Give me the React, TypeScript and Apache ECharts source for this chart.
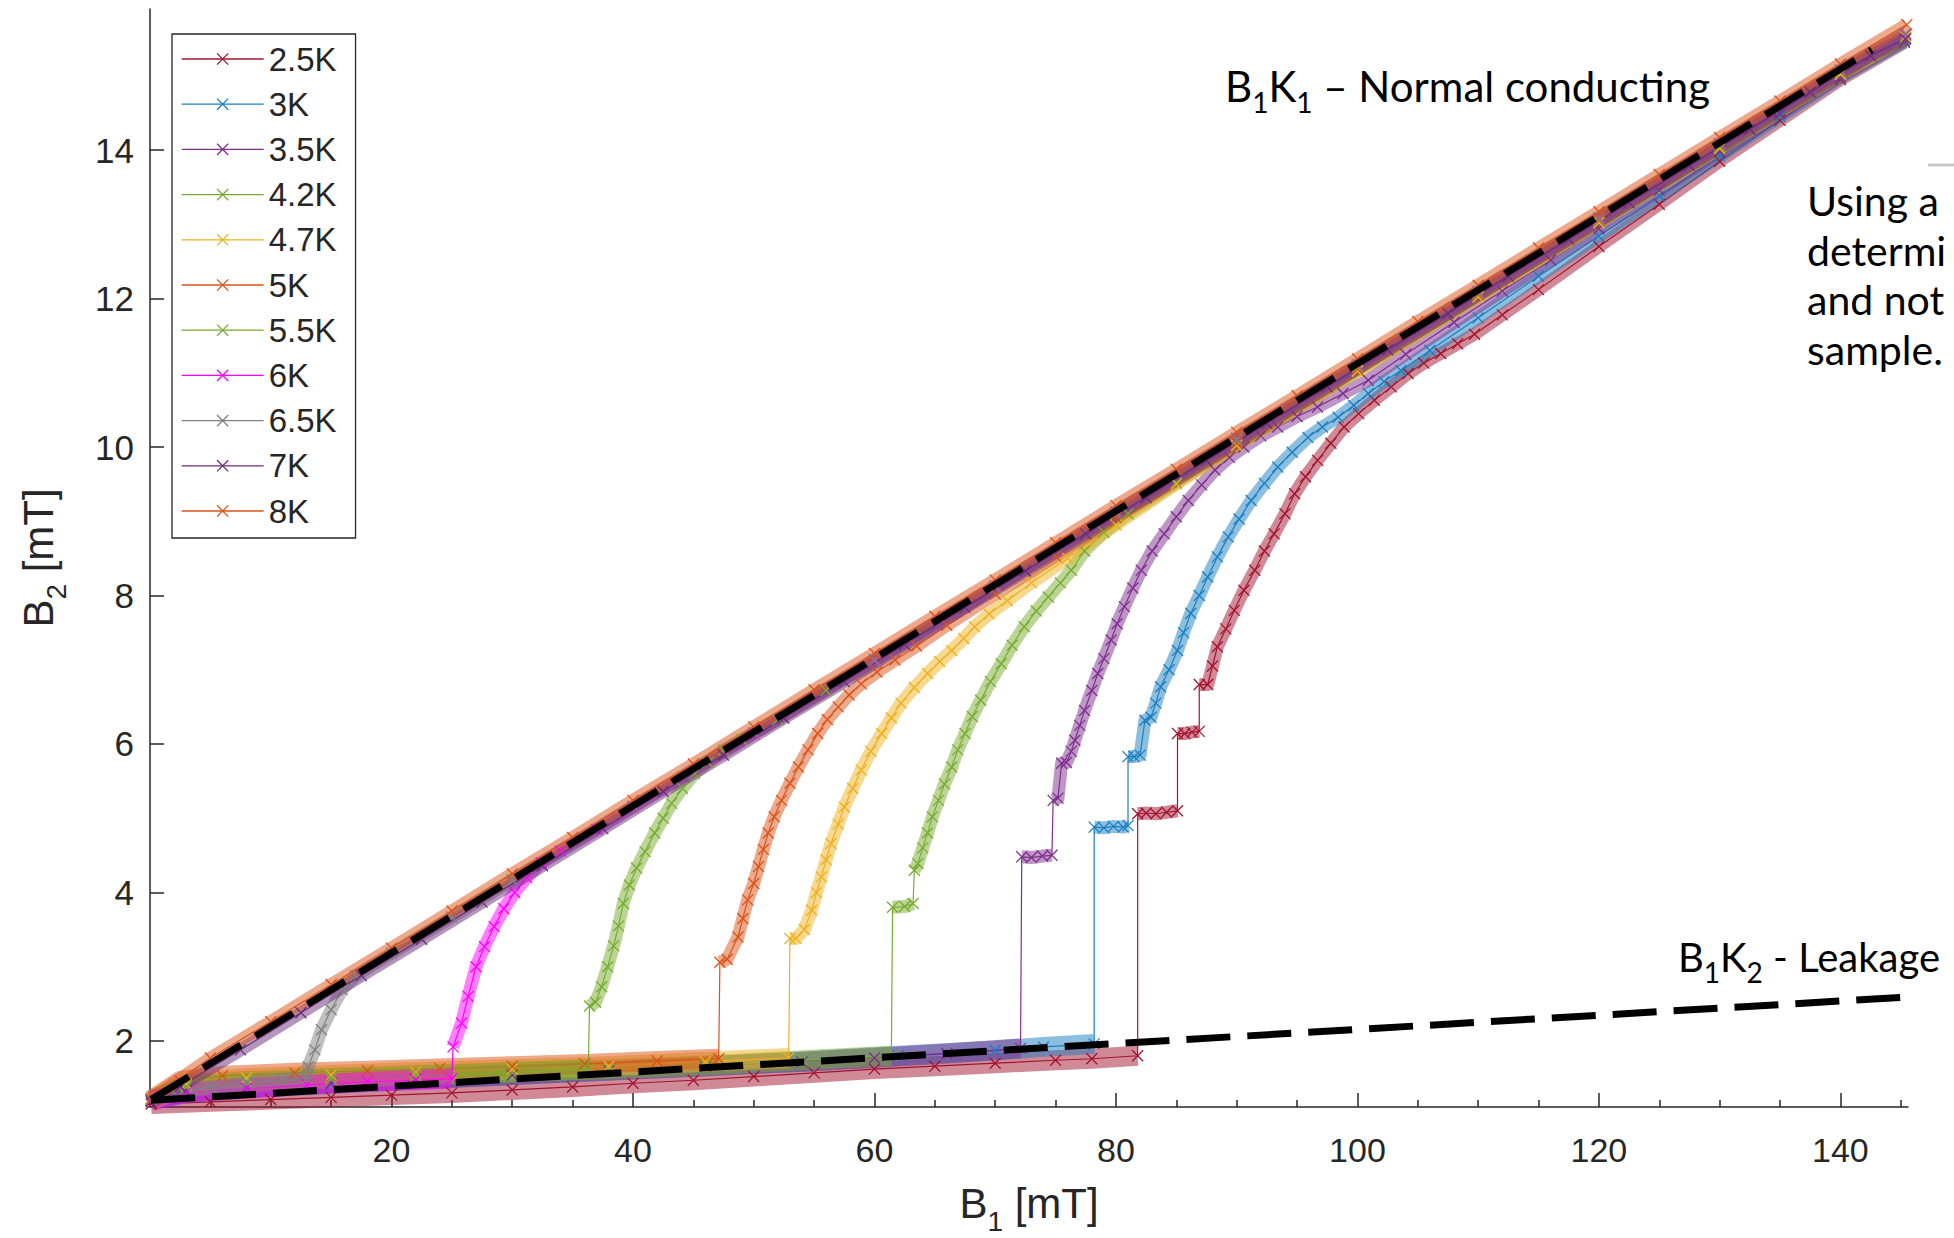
import React, { useEffect, useRef } from 'react';
import * as echarts from 'echarts';

// ---------- data ----------
const temps = ['2.5K', '3K', '3.5K', '4.2K', '4.7K', '5K', '5.5K', '6K', '6.5K', '7K', '8K'];
const colors = ['#A2142F', '#1A7FBF', '#7E2F8E', '#77AC30', '#EDB120', '#D95319', '#77AC30', '#FF00FF', '#808080', '#6A2C78', '#D95319'];

const s25 = [
  [0.1, 1.15], [5, 1.18], [10, 1.21], [15, 1.24], [20, 1.27], [25, 1.3], [30, 1.34], [35, 1.38], [40, 1.43], [45, 1.47],
  [50, 1.52], [55, 1.57], [60, 1.62], [65, 1.66], [70, 1.7], [75, 1.74], [78, 1.76], [81.8, 1.8],
  [81.8, 5.06], [82.5, 5.07], [83.3, 5.06], [84.2, 5.08], [85.1, 5.1], [85.1, 6.14], [85.7, 6.14], [86.3, 6.16], [86.9, 6.17],
  [86.9, 6.8], [87.6, 6.8], [88.0, 7.05], [88.4, 7.31], [89.1, 7.55], [89.8, 7.8], [90.6, 8.07], [91.5, 8.34], [92.3, 8.6],
  [93.1, 8.83], [94.0, 9.1], [94.8, 9.37], [95.7, 9.6], [96.7, 9.82], [97.8, 10.05], [98.9, 10.27], [100.1, 10.45],
  [101.4, 10.63], [102.8, 10.81], [104.2, 10.99], [105.5, 11.13], [106.9, 11.26], [108.3, 11.39], [109.7, 11.52],
  [112, 11.78], [115, 12.12], [120, 12.7], [125, 13.27], [130, 13.85], [135, 14.4], [140, 14.95], [145.3, 15.45],
];
const s3 = [
  [0.1, 1.2], [3, 1.3], [8, 1.36], [15, 1.42], [22, 1.48], [30, 1.54], [38, 1.6], [46, 1.66], [54, 1.72], [62, 1.8],
  [70, 1.87], [74, 1.92], [78.2, 1.96],
  [78.2, 4.88], [79.0, 4.87], [79.8, 4.89], [80.6, 4.88], [81.0, 4.9], [81.0, 5.83], [81.5, 5.83], [82.0, 5.85],
  [82.4, 6.32], [82.9, 6.36], [83.3, 6.55], [83.7, 6.77], [84.4, 7.0], [85.1, 7.26], [85.6, 7.5], [86.2, 7.76],
  [86.9, 8.0], [87.6, 8.25], [88.4, 8.52], [89.3, 8.79], [90.2, 9.03], [91.2, 9.28], [92.3, 9.51], [93.4, 9.73],
  [94.6, 9.93], [95.9, 10.13], [97.1, 10.27], [98.4, 10.4], [99.7, 10.56], [100.9, 10.72], [102.2, 10.88], [103.6, 11.03],
  [106, 11.3], [110, 11.74], [115, 12.3], [120, 12.84], [125, 13.38], [130, 13.92], [135, 14.45], [140, 14.98], [145.3, 15.46],
];
const s35 = [
  [0.1, 1.2], [3, 1.32], [8, 1.37], [15, 1.43], [22, 1.48], [30, 1.54], [38, 1.6], [46, 1.66], [54, 1.72], [60, 1.77],
  [66, 1.83], [72.1, 1.9],
  [72.2, 4.48], [73.0, 4.47], [73.9, 4.49], [74.7, 4.5], [74.8, 5.24], [75.2, 5.27], [75.5, 5.74], [75.9, 5.75],
  [76.3, 5.9], [76.6, 6.05], [77.0, 6.25], [77.4, 6.45], [78.0, 6.72], [78.5, 6.95], [79.0, 7.15], [79.6, 7.4],
  [80.1, 7.62], [80.7, 7.85], [81.4, 8.1], [82.1, 8.34], [83.0, 8.6], [84.0, 8.83], [85.0, 9.06], [86.0, 9.28],
  [87.1, 9.49], [88.2, 9.69], [89.4, 9.86], [90.6, 10.0], [92.0, 10.15], [93.4, 10.27], [95.0, 10.41], [96.7, 10.54],
  [98.8, 10.72], [100.9, 10.9], [104, 11.25], [108, 11.68], [112, 12.1], [116, 12.52], [120, 12.94], [125, 13.46],
  [130, 13.98], [135, 14.49], [140, 14.99], [145.3, 15.48],
];
const s42 = [
  [0.1, 1.2], [3, 1.4], [8, 1.46], [15, 1.5], [22, 1.54], [30, 1.58], [38, 1.62], [46, 1.67], [54, 1.74], [61.4, 1.8],
  [61.5, 3.8], [62.5, 3.81], [63.2, 3.85], [63.3, 4.3], [63.6, 4.39], [64.0, 4.6], [64.4, 4.8], [64.8, 5.02], [65.3, 5.24],
  [65.8, 5.46], [66.4, 5.69], [66.9, 5.92], [67.5, 6.14], [68.1, 6.37], [68.8, 6.59], [69.6, 6.84], [70.5, 7.08],
  [71.4, 7.33], [72.4, 7.58], [73.4, 7.79], [74.4, 7.98], [75.4, 8.17], [76.3, 8.34], [77.4, 8.6], [79, 8.85], [81, 9.1],
  [85, 9.52], [90, 10.03], [100, 11.03], [110, 12.03], [120, 13.03], [130, 14.03], [140, 15.02], [145.4, 15.5],
];
const s47 = [
  [0.1, 1.2], [3, 1.42], [8, 1.5], [15, 1.54], [22, 1.58], [30, 1.62], [38, 1.66], [46, 1.72], [52.9, 1.77],
  [53.0, 3.38], [53.5, 3.38], [54.2, 3.5], [54.8, 3.76], [55.2, 4.0], [55.6, 4.21], [56.0, 4.44], [56.4, 4.66],
  [57.0, 4.92], [57.5, 5.15], [58.2, 5.4], [58.9, 5.65], [59.7, 5.9], [60.6, 6.14], [61.4, 6.35], [62.2, 6.55],
  [63.3, 6.76], [64.4, 6.95], [65.4, 7.11], [66.4, 7.26], [67.4, 7.42], [68.3, 7.58], [69.5, 7.75], [71, 7.93],
  [73, 8.17], [76, 8.5], [80, 8.95], [85, 9.5], [90, 10.02], [100, 11.02], [110, 12.02], [120, 13.02], [130, 14.02],
  [140, 15.02], [145.4, 15.52],
];
const s5 = [
  [0.1, 1.2], [2.5, 1.46], [6, 1.53], [12, 1.57], [18, 1.6], [24, 1.63], [30, 1.66], [36, 1.69], [42, 1.73], [47.1, 1.76],
  [47.2, 3.06], [47.8, 3.1], [48.7, 3.4], [49.1, 3.65], [49.5, 3.9], [50.0, 4.12], [50.4, 4.35], [50.8, 4.58],
  [51.2, 4.8], [51.7, 5.02], [52.3, 5.24], [53.0, 5.47], [53.7, 5.69], [54.5, 5.92], [55.3, 6.14], [56.1, 6.33],
  [57.0, 6.5], [57.9, 6.66], [58.9, 6.81], [60.2, 6.97], [61.7, 7.13], [63.5, 7.32], [66, 7.6], [70, 8.02], [75, 8.53],
  [80, 9.05], [90, 10.05], [100, 11.05], [110, 12.05], [120, 13.05], [130, 14.05], [140, 15.05], [145.4, 15.55],
];
const s55 = [
  [0.1, 1.2], [3, 1.38], [8, 1.44], [15, 1.49], [22, 1.53], [29, 1.57], [36.3, 1.62],
  [36.4, 2.47], [36.9, 2.52], [37.4, 2.73], [37.9, 3.0], [38.4, 3.28], [38.8, 3.55], [39.2, 3.85], [39.7, 4.1],
  [40.3, 4.33], [41.0, 4.55], [41.8, 4.8], [42.5, 5.0], [43.2, 5.2], [44.1, 5.4], [45.1, 5.6], [46.2, 5.75],
  [47.5, 5.92], [49, 6.06], [52, 6.33], [56, 6.72], [60, 7.12], [70, 8.11], [80, 9.1], [90, 10.09], [100, 11.08],
  [110, 12.07], [120, 13.06], [130, 14.05], [140, 15.05], [145.4, 15.55],
];
const s6 = [
  [0.1, 1.2], [3, 1.3], [8, 1.36], [13, 1.41], [18, 1.45], [22, 1.47], [25, 1.49],
  [25.1, 1.92], [25.8, 2.24], [26.35, 2.6], [27.0, 3.0], [27.7, 3.27], [28.5, 3.54], [29.3, 3.78], [30.2, 4.0],
  [31.2, 4.2], [32.4, 4.4], [34, 4.56], [37, 4.85], [40, 5.15], [50, 6.14], [60, 7.13], [70, 8.12], [80, 9.12],
  [90, 10.11], [100, 11.1], [110, 12.09], [120, 13.08], [130, 14.08], [140, 15.07], [145.4, 15.56],
];
const s65 = [
  [0.1, 1.2], [2, 1.3], [5, 1.38], [8, 1.44], [11, 1.48], [13, 1.5],
  [13.1, 1.65], [13.65, 1.88], [14.2, 2.15], [15.0, 2.42], [15.9, 2.69], [17, 2.88], [20, 3.18], [25, 3.67],
  [30, 4.17], [40, 5.16], [50, 6.15], [60, 7.14], [70, 8.13], [80, 9.13], [90, 10.12], [100, 11.11], [110, 12.1],
  [120, 13.09], [130, 14.09], [140, 15.08], [145.4, 15.57],
];
const s7 = [
  [0.1, 1.18], [2.5, 1.39], [7.5, 1.88], [12.5, 2.38], [17.5, 2.88], [22.5, 3.37], [27.5, 3.87], [32.5, 4.36],
  [37.5, 4.86], [42.5, 5.36], [47.5, 5.85], [52.5, 6.35], [57.5, 6.84], [62.5, 7.34], [67.5, 7.84], [72.5, 8.33],
  [77.5, 8.83], [82.5, 9.32], [87.5, 9.82], [92.5, 10.32], [97.5, 10.81], [102.5, 11.31], [107.5, 11.8],
  [112.5, 12.3], [117.5, 12.8], [122.5, 13.29], [127.5, 13.79], [132.5, 14.28], [137.5, 14.78], [142.5, 15.27],
  [145.4, 15.5],
];
const s8 = [
  [0.1, 1.22], [5, 1.77], [10, 2.26], [15, 2.76], [20, 3.25], [25, 3.75], [30, 4.25], [35, 4.74], [40, 5.24],
  [45, 5.73], [50, 6.23], [55, 6.73], [60, 7.22], [65, 7.72], [70, 8.21], [75, 8.71], [80, 9.21], [85, 9.7], [90, 10.2],
  [95, 10.69], [100, 11.19], [105, 11.69], [110, 12.18], [115, 12.68], [120, 13.17], [125, 13.67], [130, 14.17],
  [135, 14.66], [140, 15.16], [145.5, 15.69],
];
const seriesPoints = [s25, s3, s35, s42, s47, s5, s55, s6, s65, s7, s8];

// fitted (dashed) lines drawn on the figure: end points
const normalFit = [[0.1, 1.21], [142.6, 15.35]];
const leakageFit = [[0.1, 1.2], [148.6, 2.62]];

// axes
const xRange = [0, 145.6];
const yRange = [1.11, 15.9];
const xTicks = [20, 40, 60, 80, 100, 120, 140];
const xMinorTicks = [5, 10, 15, 25, 30, 35, 45, 50, 55, 65, 70, 75, 85, 90, 95, 105, 110, 115, 125, 130, 135, 145];
const yTicks = [2, 4, 6, 8, 10, 12, 14];

// ---------- styling ----------
const AX = '#262626';
const FONT_AX = '"Liberation Sans", Arial, Helvetica, sans-serif';
const FONT_ANN = 'Lato, "Open Sans", sans-serif';
const X_SYMBOL = 'path://M0,0L10,10M10,0L0,10';

function isJump(p, q) {
  return Math.abs(p[0] - q[0]) < 0.25 && Math.abs(p[1] - q[1]) > 0.3;
}

// superconducting (leakage) part: points before the first jump
function leakPart(pts) {
  for (let i = 1; i < pts.length; i++) if (isJump(pts[i], pts[i - 1])) return pts.slice(0, i);
  return [];
}

// rest of the curve, broken at every vertical jump so jumps stay thin
function upperPart(pts) {
  let start = 0;
  for (let i = 1; i < pts.length; i++) if (isJump(pts[i], pts[i - 1])) { start = i; break; }
  const rest = pts.slice(start);
  const out = [];
  rest.forEach((p, i) => {
    if (i > 0 && isJump(p, rest[i - 1])) out.push(['-', '-']);
    out.push(p);
  });
  return out;
}

function buildOption() {
  const series = [];
  temps.forEach((name, i) => {
    const c = colors[i];
    const leak = leakPart(seriesPoints[i]);
    if (leak.length) {
      series.push({
        type: 'line',
        name: 'leak band ' + name,
        data: leak,
        symbol: 'none',
        lineStyle: { color: c, width: 20, opacity: 0.5, cap: 'butt', join: 'round' },
        silent: true,
        z: 3,
      });
    }
    series.push({
      type: 'line',
      name: 'band ' + name,
      data: upperPart(seriesPoints[i]),
      symbol: 'none',
      connectNulls: false,
      lineStyle: { color: c, width: 13, opacity: 0.5, cap: 'butt', join: 'round' },
      silent: true,
      z: 3,
    });
    series.push({
      type: 'line',
      name,
      data: seriesPoints[i],
      symbol: X_SYMBOL,
      symbolSize: 11,
      symbolKeepAspect: true,
      showAllSymbol: true,
      lineStyle: { color: c, width: 1.2 },
      itemStyle: { color: c, borderColor: c, borderWidth: 1.3 },
      emphasis: { disabled: true },
      silent: true,
      z: 3,
    });
  });
  series.push({
    type: 'line',
    name: 'B1K1 fit',
    data: normalFit,
    symbol: 'none',
    lineStyle: { color: '#000', width: 7, type: [44, 17], cap: 'butt' },
    silent: true,
    z: 6,
  });
  series.push({
    type: 'line',
    name: 'B1K2 fit',
    data: leakageFit,
    symbol: 'none',
    clip: false,
    lineStyle: { color: '#000', width: 7, type: [44, 17], cap: 'butt' },
    silent: true,
    z: 6,
  });

  const nameRich = {
    b: { fontSize: 42, lineHeight: 64, fontFamily: FONT_AX, color: AX },
    s: { fontSize: 28, verticalAlign: 'bottom', fontFamily: FONT_AX, color: AX },
  };

  return {
    animation: false,
    backgroundColor: '#ffffff',
    grid: { left: 150, right: 46, top: 9, bottom: 131, outerBoundsMode: 'none', containLabel: false },
    legend: {
      show: true,
      data: temps,
      orient: 'vertical',
      left: 172,
      top: 34,
      padding: [8, 19, 10, 9],
      itemGap: 11.2,
      itemWidth: 82,
      itemHeight: 14,
      borderColor: AX,
      borderWidth: 1.3,
      backgroundColor: '#ffffff',
      selectedMode: false,
      textStyle: { color: AX, fontSize: 33, lineHeight: 34, fontFamily: FONT_AX },
      itemStyle: { borderWidth: 1.3 },
      lineStyle: { width: 1.3 },
      z: 10,
    },
    xAxis: [
      {
        type: 'value',
        min: xRange[0],
        max: xRange[1],
        position: 'bottom',
        axisLine: { show: true, onZero: false, lineStyle: { color: AX, width: 1.5 } },
        axisTick: { show: true, inside: true, length: 14, customValues: xTicks, lineStyle: { color: AX, width: 1.5 } },
        axisLabel: { show: true, customValues: xTicks, color: AX, fontSize: 34, fontFamily: FONT_AX, margin: 26 },
        splitLine: { show: false },
        name: '{b|B}{s|1}{b| [mT]}',
        nameLocation: 'middle',
        nameGap: 64,
        nameTextStyle: { rich: nameRich },
      },
      {
        type: 'value',
        min: xRange[0],
        max: xRange[1],
        position: 'bottom',
        axisLine: { show: false },
        axisTick: { show: true, inside: true, length: 7, customValues: xMinorTicks, lineStyle: { color: AX, width: 1.5 } },
        axisLabel: { show: false },
        splitLine: { show: false },
      },
    ],
    yAxis: {
      type: 'value',
      min: yRange[0],
      max: yRange[1],
      axisLine: { show: true, onZero: false, lineStyle: { color: AX, width: 1.5 } },
      axisTick: { show: true, inside: true, length: 14, customValues: yTicks, lineStyle: { color: AX, width: 1.5 } },
      axisLabel: { show: true, customValues: yTicks, color: AX, fontSize: 35, fontFamily: FONT_AX, margin: 16 },
      splitLine: { show: false },
      name: '{b|B}{s|2}{b| [mT]}',
      nameLocation: 'middle',
      nameGap: 80,
      nameRotate: 90,
      nameTextStyle: { rich: nameRich },
    },
    series,
    graphic: [
      {
        type: 'text',
        x: 1225,
        y: 55,
        z: 20,
        style: {
          text: '{b|B}{s|1}{b|K}{s|1}{b| – Normal conducting}',
          align: 'left',
          verticalAlign: 'top',
          fill: '#000',
          fontFamily: FONT_ANN,
          fontSize: 42,
          rich: {
            b: { fontSize: 42, lineHeight: 61, fontFamily: FONT_ANN, fill: '#000' },
            s: { fontSize: 28, verticalAlign: 'bottom', fontFamily: FONT_ANN, fill: '#000' },
          },
        },
      },
      {
        type: 'text',
        x: 1678,
        y: 927,
        z: 20,
        style: {
          text: '{b|B}{s|1}{b|K}{s|2}{b| - Leakage}',
          align: 'left',
          verticalAlign: 'top',
          fill: '#000',
          fontFamily: FONT_ANN,
          fontSize: 40,
          rich: {
            b: { fontSize: 40, lineHeight: 59, fontFamily: FONT_ANN, fill: '#000' },
            s: { fontSize: 28, verticalAlign: 'bottom', fontFamily: FONT_ANN, fill: '#000' },
          },
        },
      },
      {
        type: 'text',
        x: 1807,
        y: 176,
        z: 20,
        style: {
          text: 'Using a\ndetermi\nand not\nsample.',
          align: 'left',
          verticalAlign: 'top',
          fill: '#000',
          fontFamily: FONT_ANN,
          fontSize: 41,
          lineHeight: 49.5,
        },
      },
      {
        type: 'line',
        z: 20,
        shape: { x1: 1928, y1: 165, x2: 1954, y2: 165 },
        style: { stroke: '#c8c8c8', lineWidth: 3 },
      },
    ],
  };
}

export default function App() {
  const ref = useRef<HTMLDivElement>(null);
  useEffect(() => {
    const chart = echarts.init(ref.current as HTMLDivElement, null, { renderer: 'svg' });
    chart.setOption(buildOption() as any);
    return () => {
      chart.dispose();
    };
  }, []);
  return (
    <div
      ref={ref}
      style={{ position: 'absolute', left: 0, top: 0, width: 1954, height: 1238, background: '#ffffff', overflow: 'hidden' }}
    />
  );
}
